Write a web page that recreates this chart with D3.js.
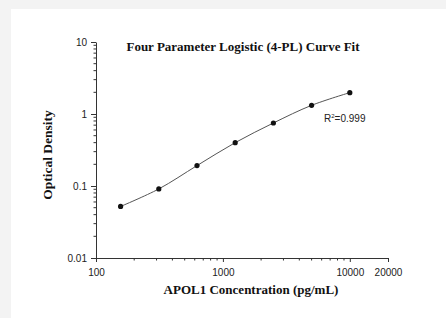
<!DOCTYPE html>
<html>
<head>
<meta charset="utf-8">
<script src="https://cdn.jsdelivr.net/npm/d3@7"></script>
<style>
  body { margin: 0; background: #f3f3f3; }
  svg { display: block; }
</style>
</head>
<body>
<div id="container"></div>
<script>
// standard concentrations (pg/mL) and measured OD
const concentrations = [156.25, 312.5, 625, 1250, 2500, 5000, 10000];
const odValues = [0.052, 0.091, 0.192, 0.40, 0.75, 1.32, 1.98];
const xTickValues = [100, 1000, 10000, 20000];
const yTickValues = [0.01, 0.1, 1, 10];
const rSquared = "0.999";

const width = 446, height = 318;
const plotLeft = 96, plotRight = 388, plotTop = 42, plotBottom = 258;

const svg = d3.select("#container").append("svg")
  .attr("width", width)
  .attr("height", height);

svg.append("rect")
  .attr("x", 11).attr("y", 9)
  .attr("width", width - 11).attr("height", height - 9)
  .attr("fill", "white");

const x = d3.scaleLog().domain([100, 20000]).range([plotLeft, plotRight]);
const y = d3.scaleLog().domain([0.01, 10]).range([plotBottom, plotTop]);

// minor ticks
const xMinor = [];
for (let d = 100; d <= 10000; d *= 10) {
  for (let k = 2; k <= 9; k++) if (d * k < 20000) xMinor.push(d * k);
}
const yMinor = [];
for (let d = 0.01; d < 10; d *= 10) {
  for (let k = 2; k <= 9; k++) yMinor.push(d * k);
}

const axisColor = "#333";

const xAxis = svg.append("g")
  .attr("transform", `translate(0,${plotBottom})`)
  .call(d3.axisBottom(x).tickValues(xTickValues).tickFormat(d3.format("d")).tickSize(4).tickSizeOuter(0));
xAxis.append("g").selectAll("line").data(xMinor).join("line")
  .attr("x1", d => x(d)).attr("x2", d => x(d))
  .attr("y1", 0).attr("y2", 2.5)
  .attr("stroke", axisColor);

const yAxis = svg.append("g")
  .attr("transform", `translate(${plotLeft},0)`)
  .call(d3.axisLeft(y).tickValues(yTickValues).tickFormat(d => d >= 1 ? d3.format("d")(d) : String(+d.toPrecision(1))).tickSize(5).tickSizeOuter(0));
yAxis.append("g").selectAll("line").data(yMinor).join("line")
  .attr("y1", d => y(d)).attr("y2", d => y(d))
  .attr("x1", 0).attr("x2", -2.5)
  .attr("stroke", axisColor);

svg.selectAll(".domain, .tick line").attr("stroke", axisColor);
svg.selectAll(".tick text")
  .attr("font-family", "Liberation Sans, Arial, sans-serif")
  .attr("font-size", 10)
  .attr("fill", "#222");
xAxis.selectAll(".tick text").attr("dy", "1.1em");
yAxis.selectAll(".tick text").attr("dx", "-0.1em");

// fitted curve through the standards
const pts = concentrations.map((c, i) => [x(c), y(odValues[i])]);
svg.append("path")
  .attr("d", d3.line().curve(d3.curveCatmullRom)(pts))
  .attr("fill", "none")
  .attr("stroke", "#555")
  .attr("stroke-width", 1);

svg.selectAll("circle.pt").data(pts).join("circle")
  .attr("class", "pt")
  .attr("cx", d => d[0]).attr("cy", d => d[1])
  .attr("r", 2.6)
  .attr("fill", "#111");

// R squared label
const r2 = svg.append("text")
  .attr("x", 324).attr("y", 122)
  .attr("font-family", "Liberation Sans, Arial, sans-serif")
  .attr("font-size", 10)
  .attr("fill", "#222");
r2.append("tspan").text("R");
r2.append("tspan").attr("font-size", 6).attr("dy", -4).text("2");
r2.append("tspan").attr("dy", 4).text("=" + rSquared);

const serif = "Liberation Serif, Times New Roman, serif";

svg.append("text")
  .attr("x", 243).attr("y", 51)
  .attr("text-anchor", "middle")
  .attr("font-family", serif)
  .attr("font-weight", "bold")
  .attr("font-size", 13)
  .attr("fill", "#111")
  .text("Four Parameter Logistic (4-PL) Curve Fit");

svg.append("text")
  .attr("x", 251).attr("y", 294)
  .attr("text-anchor", "middle")
  .attr("font-family", serif)
  .attr("font-weight", "bold")
  .attr("font-size", 13)
  .attr("fill", "#111")
  .text("APOL1 Concentration (pg/mL)");

svg.append("text")
  .attr("transform", "translate(52,155) rotate(-90)")
  .attr("text-anchor", "middle")
  .attr("font-family", serif)
  .attr("font-weight", "bold")
  .attr("font-size", 13.5)
  .attr("fill", "#111")
  .text("Optical Density");
</script>
</body>
</html>
